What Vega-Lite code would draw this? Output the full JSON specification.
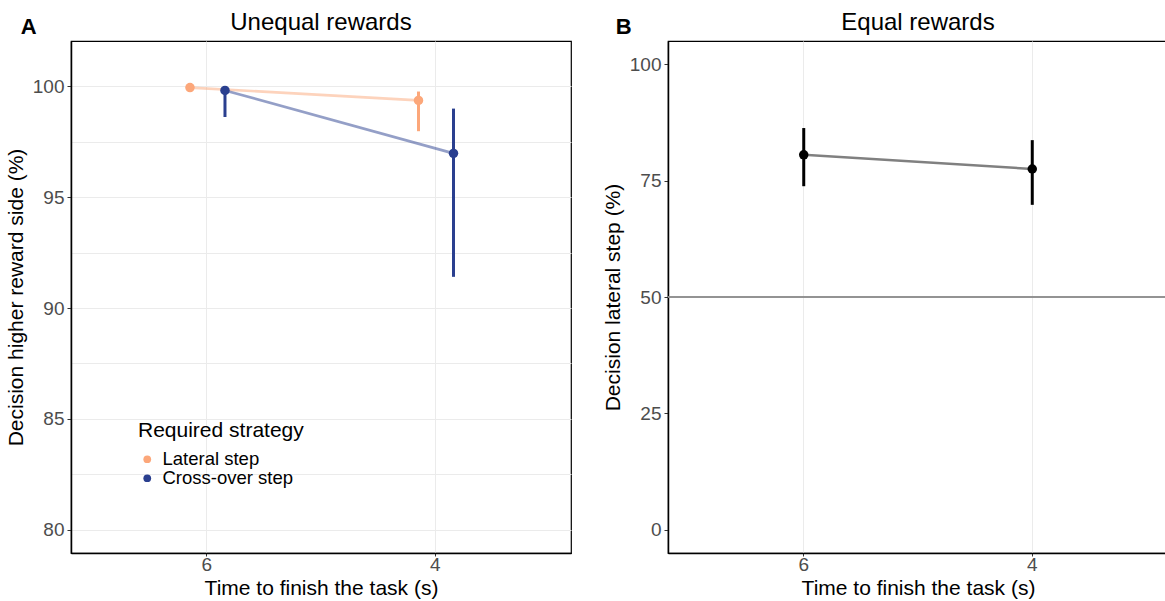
{
  "$schema": "https://vega.github.io/schema/vega-lite/v6.json",
  "padding": {"left": 4, "top": 10, "right": 0, "bottom": 0},
  "autosize": {"type": "pad"},
  "config": {
    "font": "Liberation Sans",
    "view": {"stroke": "black", "strokeWidth": 1.2},
    "axis": {
      "labelFontSize": 19, "labelColor": "#4D4D4D", "labelFont": "Liberation Sans",
      "titleFontSize": 21, "titleFontWeight": "normal", "titleColor": "black", "titleFont": "Liberation Sans",
      "tickColor": "#333333", "tickSize": 4, "gridColor": "#EBEBEB", "gridWidth": 1,
      "domainColor": "black", "domainWidth": 1.5, "labelPadding": 3
    },
    "title": {"fontSize": 24, "fontWeight": "normal", "color": "black", "font": "Liberation Sans"},
    "concat": {"spacing": 29}
  },
  "hconcat": [
    {
      "title": {"text": "A", "anchor": "start", "fontWeight": "bold", "fontSize": 22, "dx": 16, "dy": 29, "offset": 0},
      "vconcat": [
        {
          "width": 500,
          "height": 512,
          "title": {"text": "Unequal rewards", "offset": 6},
          "data": {"values": [
            {"time": "6", "strategy": "Lateral step", "mean": 99.95, "lo": 99.85, "hi": 100.0},
            {"time": "4", "strategy": "Lateral step", "mean": 99.37, "lo": 97.98, "hi": 99.77},
            {"time": "6", "strategy": "Cross-over step", "mean": 99.82, "lo": 98.62, "hi": 100.0},
            {"time": "4", "strategy": "Cross-over step", "mean": 96.98, "lo": 91.41, "hi": 99.0}
          ]},
          "encoding": {
            "x": {"field": "time", "type": "ordinal", "sort": ["6", "4"],
              "scale": {"paddingInner": 0, "paddingOuter": 0.094},
              "axis": {"title": "Time to finish the task (s)", "labelAngle": 0, "bandPosition": 0.5, "grid": true, "tickSize": 3, "labelPadding": -1, "titlePadding": 3}},
            "xOffset": {"field": "strategy", "type": "nominal", "sort": ["Lateral step", "Cross-over step"],
              "scale": {"range": [80, 150], "paddingInner": 0, "paddingOuter": 0}}
          },
          "layer": [
            {
              "mark": {"type": "line", "strokeWidth": 2.7, "strokeOpacity": 0.5},
              "encoding": {
                "y": {"field": "mean", "type": "quantitative",
                  "scale": {"domain": [78.95, 102.05], "nice": false, "zero": false},
                  "axis": {"title": "Decision higher reward side (%)", "values": [80, 82.5, 85, 87.5, 90, 92.5, 95, 97.5, 100],
                    "labelExpr": "datum.value % 5 === 0 ? datum.label : ''",
                    "tickColor": {"condition": {"test": "datum.value % 5 === 0", "value": "#333333"}, "value": "transparent"},
                    "titlePadding": 6}},
                "stroke": {"field": "strategy", "type": "nominal",
                  "scale": {"domain": ["Lateral step", "Cross-over step"], "range": ["#FCA77A", "#2A3F8F"]}}
              }
            },
            {
              "mark": {"type": "rule", "strokeWidth": 3},
              "encoding": {
                "y": {"field": "lo", "type": "quantitative",
                  "scale": {"domain": [78.95, 102.05], "nice": false, "zero": false},
                  "axis": {"title": "Decision higher reward side (%)", "values": [80, 82.5, 85, 87.5, 90, 92.5, 95, 97.5, 100],
                    "labelExpr": "datum.value % 5 === 0 ? datum.label : ''",
                    "tickColor": {"condition": {"test": "datum.value % 5 === 0", "value": "#333333"}, "value": "transparent"},
                    "titlePadding": 6}},
                "y2": {"field": "hi"},
                "stroke": {"field": "strategy", "type": "nominal",
                  "scale": {"domain": ["Lateral step", "Cross-over step"], "range": ["#FCA77A", "#2A3F8F"]}}
              }
            },
            {
              "mark": {"type": "circle", "size": 90, "opacity": 1},
              "encoding": {
                "y": {"field": "mean", "type": "quantitative",
                  "scale": {"domain": [78.95, 102.05], "nice": false, "zero": false},
                  "axis": {"title": "Decision higher reward side (%)", "values": [80, 82.5, 85, 87.5, 90, 92.5, 95, 97.5, 100],
                    "labelExpr": "datum.value % 5 === 0 ? datum.label : ''",
                    "tickColor": {"condition": {"test": "datum.value % 5 === 0", "value": "#333333"}, "value": "transparent"},
                    "titlePadding": 6}},
                "color": {"field": "strategy", "type": "nominal",
                  "scale": {"domain": ["Lateral step", "Cross-over step"], "range": ["#FCA77A", "#2A3F8F"]},
                  "legend": {"title": "Required strategy", "orient": "none", "legendX": 67, "legendY": 379,
                    "titleFontSize": 21, "titleFontWeight": "normal", "titleColor": "black", "titlePadding": 9,
                    "labelFontSize": 18.5, "labelColor": "black", "symbolType": "circle", "symbolSize": 60,
                    "symbolStrokeWidth": 0, "symbolOpacity": 1, "rowPadding": 0, "labelOffset": 6}}
              }
            }
          ]
        }
      ]
    },
    {
      "title": {"text": "B", "anchor": "start", "fontWeight": "bold", "fontSize": 22, "dx": 14, "dy": 29, "offset": 0},
      "vconcat": [
        {
          "width": 500,
          "height": 512,
          "title": {"text": "Equal rewards", "offset": 6},
          "data": {"values": [
            {"time": "6", "mean": 80.55, "lo": 73.8, "hi": 86.3},
            {"time": "4", "mean": 77.5, "lo": 69.8, "hi": 83.7}
          ]},
          "encoding": {
            "x": {"field": "time", "type": "ordinal", "sort": ["6", "4"],
              "scale": {"paddingInner": 0, "paddingOuter": 0.094},
              "axis": {"title": "Time to finish the task (s)", "labelAngle": 0, "bandPosition": 0.5, "grid": true, "tickSize": 3, "labelPadding": -1, "titlePadding": 3}}
          },
          "layer": [
            {
              "mark": {"type": "rule", "color": "#8C8C8C", "strokeWidth": 1.5},
              "encoding": {
                "y": {"datum": 50, "type": "quantitative",
                  "scale": {"domain": [-5, 105], "nice": false, "zero": false},
                  "axis": {"title": "Decision lateral step (%)", "values": [0, 12.5, 25, 37.5, 50, 62.5, 75, 87.5, 100],
                    "labelExpr": "datum.value % 25 === 0 ? datum.label : ''",
                    "tickColor": {"condition": {"test": "datum.value % 25 === 0", "value": "#333333"}, "value": "transparent"},
                    "titlePadding": 6}},
                "x": null
              }
            },
            {
              "mark": {"type": "line", "strokeWidth": 2.5, "color": "#808080"},
              "encoding": {
                "y": {"field": "mean", "type": "quantitative",
                  "scale": {"domain": [-5, 105], "nice": false, "zero": false},
                  "axis": {"title": "Decision lateral step (%)", "values": [0, 12.5, 25, 37.5, 50, 62.5, 75, 87.5, 100],
                    "labelExpr": "datum.value % 25 === 0 ? datum.label : ''",
                    "tickColor": {"condition": {"test": "datum.value % 25 === 0", "value": "#333333"}, "value": "transparent"},
                    "titlePadding": 6}}
              }
            },
            {
              "mark": {"type": "rule", "strokeWidth": 3, "color": "black"},
              "encoding": {
                "y": {"field": "lo", "type": "quantitative",
                  "scale": {"domain": [-5, 105], "nice": false, "zero": false},
                  "axis": {"title": "Decision lateral step (%)", "values": [0, 12.5, 25, 37.5, 50, 62.5, 75, 87.5, 100],
                    "labelExpr": "datum.value % 25 === 0 ? datum.label : ''",
                    "tickColor": {"condition": {"test": "datum.value % 25 === 0", "value": "#333333"}, "value": "transparent"},
                    "titlePadding": 6}},
                "y2": {"field": "hi"}
              }
            },
            {
              "mark": {"type": "circle", "size": 90, "opacity": 1, "color": "black"},
              "encoding": {
                "y": {"field": "mean", "type": "quantitative",
                  "scale": {"domain": [-5, 105], "nice": false, "zero": false},
                  "axis": {"title": "Decision lateral step (%)", "values": [0, 12.5, 25, 37.5, 50, 62.5, 75, 87.5, 100],
                    "labelExpr": "datum.value % 25 === 0 ? datum.label : ''",
                    "tickColor": {"condition": {"test": "datum.value % 25 === 0", "value": "#333333"}, "value": "transparent"},
                    "titlePadding": 6}}
              }
            }
          ]
        }
      ]
    }
  ]
}
